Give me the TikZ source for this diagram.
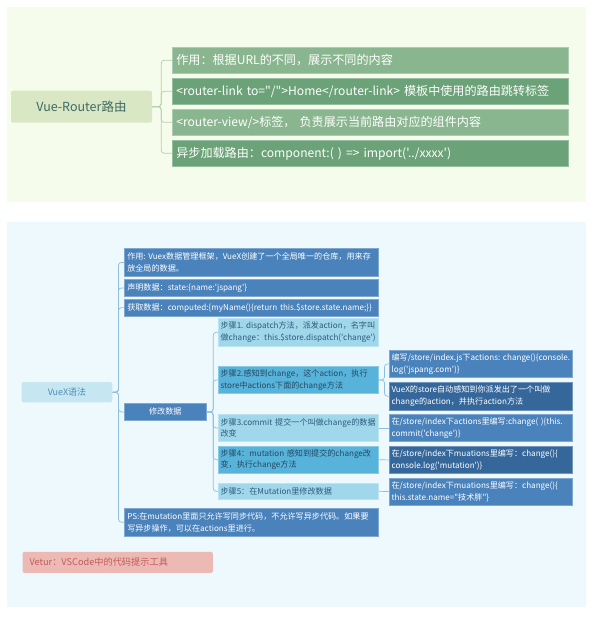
\documentclass[tikz,border=0pt]{standalone}
\usepackage{fontspec}
\setmainfont{Noto Sans CJK SC}[Ligatures=TeXOff]
\usetikzlibrary{positioning}
\hyphenpenalty=10000
\exhyphenpenalty=10000
\definecolor{cBgG}{HTML}{F6FCEC}
\definecolor{cBgB}{HTML}{EDF9FD}
\definecolor{cRootG}{HTML}{D9E7C4}
\definecolor{cRootGT}{HTML}{3E6A63}
\definecolor{cLeafG}{HTML}{89B68F}
\definecolor{cLeafGd}{HTML}{6BA277}
\definecolor{cLineG}{HTML}{B2D1AE}
\definecolor{cRootB}{HTML}{C6E7F2}
\definecolor{cRootBT}{HTML}{4D8DB8}
\definecolor{cMid}{HTML}{4A82BC}
\definecolor{cDeep}{HTML}{35679B}
\definecolor{cStep}{HTML}{A0D7EB}
\definecolor{cStepd}{HTML}{57B3DA}
\definecolor{cStepT}{HTML}{2D5B7A}
\definecolor{cLineB}{HTML}{8FBFE0}
\definecolor{cTip}{HTML}{EDB9B5}
\definecolor{cTipT}{HTML}{C25A5C}
\tikzset{
  rootbox/.style={rounded corners=2pt,inner sep=0pt,align=center},
  gleaf/.style={anchor=north west,fill=cLeafG,draw=cLeafG!70!white,line width=.6pt,
                text=white,text width=388pt,minimum height=26pt,inner xsep=4pt,
                inner ysep=0pt,align=left,font=\fontsize{12.1}{13}\selectfont},
  gleafd/.style={gleaf,fill=cLeafGd,draw=cLeafGd!70!white},
  bleaf/.style={anchor=north west,fill=cMid,draw=cMid!70!white,line width=.5pt,
                text=white,text width=248pt,inner xsep=3pt,inner ysep=0pt,
                align=left,font=\fontsize{8.1}{11.5}\selectfont},
  stepbox/.style={bleaf,fill=cStep,draw=cStep!70!white,text=cStepT,text width=156pt,
                inner xsep=2pt,minimum height=27.4pt},
  stepboxd/.style={stepbox,fill=cStepd,draw=cStepd!70!white,text=cStepT!80!black},
  notebox/.style={bleaf,text width=179pt,inner xsep=2pt,minimum height=27.4pt},
  noteboxd/.style={notebox,fill=cDeep,draw=cDeep!70!white},
  glink/.style={cLineG,line width=.8pt,rounded corners=3pt},
  blink/.style={cLineB,line width=.7pt,rounded corners=3pt},
}
\begin{document}
\begin{tikzpicture}[x=1pt,y=-1pt]
  \useasboundingbox (0,0) rectangle (593,634);
  % panels
  \fill[cBgG] (7,7) rectangle (586,202);
  \fill[cBgB] (7,222) rectangle (586,607);

  % Vue-Router
  \node[rootbox,fill=cRootG,text=cRootGT,minimum width=141pt,minimum height=32pt,
        font=\fontsize{12.5}{14}\selectfont](vr) at (81.5,106.7){Vue-Router路由};
  \node[gleaf](vr1) at (172,47){作用：根据URL的不同，展示不同的内容};
  \node[gleafd](vr2) at (172,78){<router-link~to="/">Home</router-link>~模板中使用的路由跳转标签};
  \node[gleaf](vr3) at (172,109){<router-view/>标签，~负责展示当前路由对应的组件内容};
  \node[gleafd](vr4) at (172,140){异步加载路由：component:(~)~=>~import('../xxxx')};
  \foreach \c in {vr1,vr2,vr3,vr4}
    \draw[glink] (vr.east) -- ++(9,0) |- (\c.west);

  % VueX
  \node[rootbox,fill=cRootB,text=cRootBT,minimum width=90.6pt,minimum height=20.3pt,
        font=\fontsize{9}{11}\selectfont](vx) at (67,392.2){VueX语法};
  \node[bleaf,minimum height=27.7pt](vx1) at (124,248.3){作用:~Vuex数据管理框架，VueX创建了一个全局唯一的仓库，用来存\\放全局的数据。};
  \node[bleaf,minimum height=16.7pt](vx2) at (124,279.3){声明数据：state:\{name:'jspang'\}};
  \node[bleaf,minimum height=16.7pt](vx3) at (124,299){获取数据：computed:\{myName()\{return~this.\$store.state.name;\}\}};
  \node[bleaf,text width=76pt,align=center,minimum height=16.7pt](vx4) at (124,403.3){修改数据};
  \node[bleaf,minimum height=27.4pt](vx5) at (124,508.3){PS:在mutation里面只允许写同步代码，不允许写异步代码。如果要\\写异步操作，可以在actions里进行。};
  \foreach \c in {vx1,vx2,vx3,vx4,vx5}
    \draw[blink] (vx.east) -- ++(6,0) |- (\c.west);

  % steps
  \node[stepbox](s1) at (218.3,318.3){步骤1.~dispatch方法，派发action，名字叫\\做change：this.\$store.dispatch('change')};
  \node[stepboxd](s2) at (218.3,366){步骤2.感知到change，这个action，执行\\store中actions下面的change方法};
  \node[stepbox](s3) at (218.3,414){步骤3.commit~提交一个叫做change的数据\\改变};
  \node[stepboxd](s4) at (218.3,445.7){步骤4：mutation~感知到提交的change改\\变，执行change方法};
  \node[stepbox,minimum height=16.6pt](s5) at (218.3,482.7){步骤5：在Mutation里修改数据};
  \foreach \c in {s1,s2,s3,s4,s5}
    \draw[blink] (vx4.east) -- ++(6.7,0) |- (\c.west);

  % notes
  \node[notebox](n1) at (389.3,350){编写/store/index.js下actions:~change()\{console.\\log('jspang.com')\}};
  \node[noteboxd](n2) at (389.3,382.3){VueX的store自动感知到你派发出了一个叫做\\change的action，并执行action方法};
  \node[notebox](n3) at (389.3,414){在/store/index下actions里编写:change(~)\{this.\\commit('change')\}};
  \node[noteboxd](n4) at (389.3,446){在/store/index下muations里编写：change()\{\\console.log('mutation')\}};
  \node[notebox](n5) at (389.3,477.7){在/store/index下muations里编写：change()\{\\this.state.name="技术胖"\}};
  \foreach \c in {n1,n2}
    \draw[blink] (s2.east) -- ++(5.7,0) |- (\c.west);
  \draw[blink] (s3.east) -- (n3.west);
  \draw[blink] (s4.east) -- (n4.west);
  \draw[blink] (s5.east) -- (n5.west);

  % tip
  \node[rootbox,anchor=north west,fill=cTip,text=cTipT,text width=176.4pt,
        inner xsep=7pt,minimum height=21pt,align=left,
        font=\fontsize{9.2}{11}\selectfont](tip) at (22.3,551.7){Vetur：VSCode中的代码提示工具};
\end{tikzpicture}
\end{document}
